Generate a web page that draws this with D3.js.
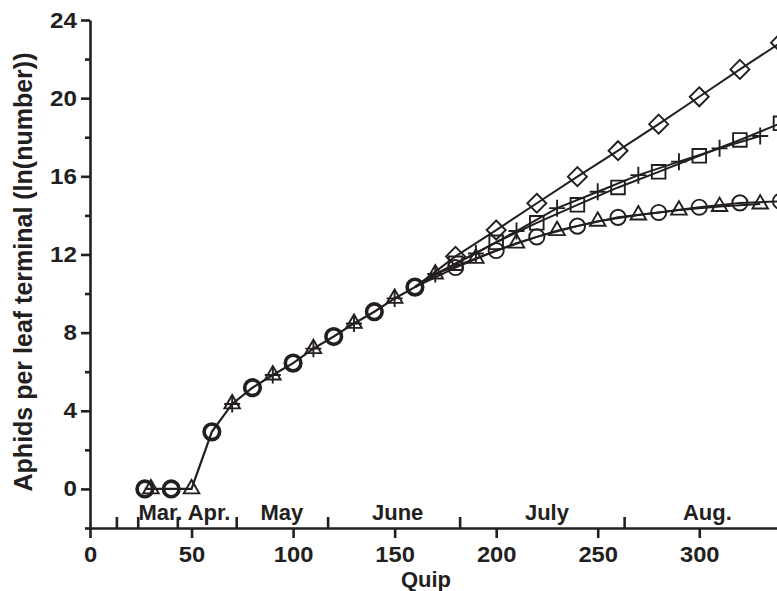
<!DOCTYPE html>
<html>
<head>
<meta charset="utf-8">
<script src="https://cdn.jsdelivr.net/npm/d3@7"></script>
<style>
  html, body { margin: 0; padding: 0; background: #fff; }
  svg { display: block; }
  text { font-family: "Liberation Sans", Arial, Helvetica, sans-serif; font-weight: bold; fill: #231f20; }
</style>
</head>
<body>
<svg id="chart" width="777" height="591"></svg>
<script>
// ---- data ----
const xTickValues = [0, 50, 100, 150, 200, 250, 300];
const yMajorTicks = [0, 4, 8, 12, 16, 20, 24];
const yMinorTicks = [-2, 2, 6, 10, 14, 18, 22];
const monthBounds = [13, 23.5, 43, 72, 117, 182, 263];
const monthLabels = ["Mar. Apr.", "May", "June", "July", "Aug."];
const monthLabelDays = [46.5, 94.5, 151.5, 225, 304];

// shared early trajectory (all scenarios identical until ~day 160)
const earlyDays = [27, 30, 40, 50, 60, 70, 80, 90, 100, 110, 120, 130, 140, 150, 160];
const earlyVals = [0, 0, 0, 0, 2.92, 4.35, 5.18, 5.83, 6.44, 7.18, 7.8, 8.47, 9.07, 9.75, 10.33];
const earlyCircleDays = [27, 40, 60, 80, 100, 120, 140, 160];
const earlyTriangleDays = [30, 50, 70, 90, 110, 130, 150];
const earlyPlusDays = [70, 90, 110, 130, 150];

// scenario branches
const circleDays = [180, 200, 220, 240, 260, 280, 300, 320, 340];
const circleVals = [11.33, 12.2, 12.9, 13.45, 13.9, 14.15, 14.42, 14.64, 14.72];

const triangleDays = [170, 190, 210, 230, 250, 270, 290, 310, 330];
const triangleVals = [11.0, 11.8, 12.58, 13.22, 13.7, 14.02, 14.27, 14.45, 14.58];

const plusDays = [170, 190, 210, 230, 250, 270, 290, 310, 330];
const plusVals = [11.0, 12.05, 13.2, 14.37, 15.21, 16.06, 16.75, 17.43, 18.06];

const diamondDays = [180, 200, 220, 240, 260, 280, 300, 320, 340];
const diamondVals = [11.9, 13.25, 14.62, 15.98, 17.31, 18.67, 20.07, 21.47, 22.84];

const squareDays = [180, 200, 220, 240, 260, 280, 300, 320, 340];
const squareVals = [11.55, 12.62, 13.62, 14.54, 15.43, 16.23, 17.05, 17.86, 18.71];

// ---- layout ----
const svg = d3.select("#chart");
const ink = "#231f20";
const x = d3.scaleLinear().domain([0, 340]).range([90, 780.5]);
const y = d3.scaleLinear().domain([-2, 24]).range([528, 20]);

svg.append("rect").attr("width", 777).attr("height", 591).attr("fill", "#fff");

const tri = (s) => { const h = s * Math.sqrt(3) / 2; return `M0,${-2*h/3}L${s/2},${h/3}L${-s/2},${h/3}Z`; };
const shapes = {
  circle: d3.symbol().type(d3.symbolCircle).size(Math.PI * 7.6 * 7.6)(),
  circleBold: d3.symbol().type(d3.symbolCircle).size(Math.PI * 7.8 * 7.8)(),
  triangle: tri(15.5),
  plus: "M-8,0H8M0,-8.5V8.5",
  diamond: "M0,-9.5L9.5,0L0,9.5L-9.5,0Z",
  square: "M-6.8,-6.8H6.8V6.8H-6.8Z"
};

const early = earlyDays.map((d, i) => [d, earlyVals[i]]);
const earlyAt = d => earlyVals[earlyDays.indexOf(d)];

const series = [
  { name: "diamond", days: diamondDays, vals: diamondVals, earlyMarks: [] },
  { name: "square", days: squareDays, vals: squareVals, earlyMarks: [] },
  { name: "plus", days: plusDays, vals: plusVals, earlyMarks: earlyPlusDays },
  { name: "triangle", days: triangleDays, vals: triangleVals, earlyMarks: earlyTriangleDays },
  { name: "circle", days: circleDays, vals: circleVals, earlyMarks: earlyCircleDays }
];

const line = d3.line().x(d => x(d[0])).y(d => y(d[1]));
const plot = svg.append("g");

// shared early line
plot.append("path").datum(early)
  .attr("d", line).attr("fill", "none").attr("stroke", ink).attr("stroke-width", 2.2);

// branch lines, each starting from the last shared point
series.forEach(s => {
  const pts = [early[early.length - 1]].concat(s.days.map((d, i) => [d, s.vals[i]]));
  plot.append("path").datum(pts)
    .attr("d", line).attr("fill", "none").attr("stroke", ink).attr("stroke-width", 2);
});

// markers
series.forEach(s => {
  const pts = s.earlyMarks.map(d => [d, earlyAt(d), true])
    .concat(s.days.map((d, i) => [d, s.vals[i], false]));
  plot.append("g").selectAll("path").data(pts).join("path")
    .attr("transform", d => `translate(${x(d[0])},${y(d[1])})`)
    .attr("d", d => (s.name === "circle" && d[2]) ? shapes.circleBold : shapes[s.name])
    .attr("fill", "none")
    .attr("stroke", ink)
    .attr("stroke-width", d => (s.name === "circle" && d[2]) ? 3.6 : 1.9);
});

// ---- axes ----
function styleAxis(g) {
  g.selectAll("path.domain").attr("stroke", ink).attr("stroke-width", 2.6);
  g.selectAll(".tick line").attr("stroke", ink).attr("stroke-width", 2.6);
  g.selectAll(".tick text").attr("fill", ink)
    .style("font-size", "22px").style("font-weight", "bold")
    .style("font-family", "'Liberation Sans', Arial, sans-serif");
}

const yAxisMinor = svg.append("g").attr("transform", "translate(90,0)")
  .call(d3.axisLeft(y).tickValues(yMinorTicks).tickSize(5).tickFormat(""));
yAxisMinor.select("path.domain").remove();
styleAxis(yAxisMinor);

const yAxis = svg.append("g").attr("transform", "translate(90,0)")
  .call(d3.axisLeft(y).tickValues(yMajorTicks).tickSize(9).tickSizeOuter(0).tickPadding(4));
styleAxis(yAxis);
yAxis.selectAll(".tick text").attr("x", 0).attr("transform", "translate(-13,0) scale(1.1,1)");

const monthAxis = svg.append("g").attr("transform", "translate(0,528)")
  .call(d3.axisTop(x).tickValues(monthBounds).tickSize(11).tickFormat(""));
monthAxis.select("path.domain").remove();
styleAxis(monthAxis);

const xAxis = svg.append("g").attr("transform", "translate(0,528)")
  .call(d3.axisBottom(x).tickValues(xTickValues).tickSize(10).tickSizeOuter(0).tickPadding(8));
styleAxis(xAxis);
xAxis.selectAll(".tick text").attr("transform", "scale(1.08,1)");

// month labels
svg.append("g").selectAll("text").data(monthLabels).join("text")
  .attr("x", (d, i) => x(monthLabelDays[i]))
  .attr("y", 520)
  .attr("text-anchor", "middle")
  .style("font-size", "22px")
  .text(d => d);

// axis titles
svg.append("text")
  .attr("x", 426).attr("y", 587)
  .attr("text-anchor", "middle")
  .style("font-size", "22px")
  .text("Quip");

svg.append("text")
  .attr("transform", "translate(32,272) rotate(-90)")
  .attr("text-anchor", "middle")
  .style("font-size", "25px")
  .text("Aphids per leaf terminal (ln(number))");
</script>
</body>
</html>
